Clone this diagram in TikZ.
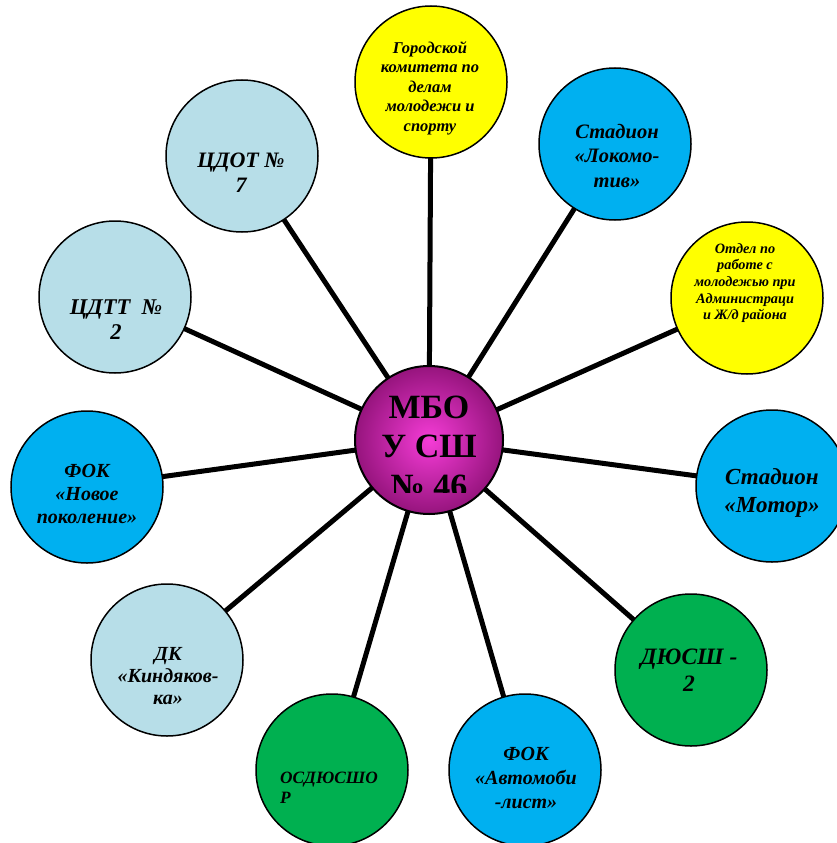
\documentclass[tikz,border=0pt]{standalone}
\usepackage{fontspec}
\setmainfont{Liberation Serif}
\usetikzlibrary{backgrounds}
\definecolor{cyel}{RGB}{255,255,0}
\definecolor{cblue}{RGB}{0,176,240}
\definecolor{clight}{RGB}{183,222,232}
\definecolor{cgreen}{RGB}{0,176,80}
\definecolor{cpinkin}{RGB}{245,60,215}
\definecolor{cpinkout}{RGB}{150,20,125}
\tikzset{
  bubble/.style={circle, draw=black, line width=1.5pt, minimum size=152pt, inner sep=0pt},
  conn/.style={line width=5pt, black},
  lbl/.style={align=center, inner sep=0pt, text=black},
}
\newcommand{\bfi}[2]{\fontsize{#1}{#2}\selectfont\bfseries\itshape}
\begin{document}
\begin{tikzpicture}[x=1pt,y=-1pt]
\clip (0,0) rectangle (837,843);
% hub
\node[circle, draw=black, line width=2pt, minimum size=148pt, inner sep=0pt,
      inner color=cpinkin, outer color=cpinkout] (hub) at (429,440) {};
% satellites
\node[bubble, fill=cyel]   (n1)  at (431,82)  {};
\node[bubble, fill=cblue]  (n2)  at (615,144) {};
\node[bubble, fill=cyel]   (n3)  at (747,298) {};
\node[bubble, fill=cblue]  (n4)  at (772,486) {};
\node[bubble, fill=cgreen] (n5)  at (691,670) {};
\node[bubble, fill=cblue]  (n6)  at (525,770) {};
\node[bubble, fill=cgreen] (n7)  at (332,770) {};
\node[bubble, fill=clight] (n8)  at (167,660) {};
\node[bubble, fill=cblue]  (n9)  at (87,487)  {};
\node[bubble, fill=clight] (n10) at (115,297) {};
\node[bubble, fill=clight] (n11) at (242,156) {};
\begin{pgfonlayer}{background}
\fill[white] (0,0) rectangle (837,843);
\foreach \n in {n1,n2,n3,n4,n5,n6,n7,n8,n9,n10,n11}
  \draw[conn] (hub.center) -- (\n.center);
\end{pgfonlayer}
% hub text
\begin{scope}
\clip (340,360) rectangle (520,492);
\node[anchor=base, inner sep=0pt, font=\fontsize{34}{40}\selectfont\bfseries] (h1) at (429,418) {МБО};
\node[anchor=base, inner sep=0pt, font=\fontsize{34}{40}\selectfont\bfseries] (h2) at (429,457) {У СШ};
\node[anchor=base, inner sep=0pt, font=\fontsize{34}{40}\selectfont\bfseries] (h3) at (429,497) {№ 46};
\end{scope}
% labels
\node[lbl, font=\bfi{16.5}{19.5}] (t1) at (430,88) {Городской\\комитета по\\делам\\молодежи и\\спорту};
\node[lbl, font=\bfi{20.5}{24.5}] (t2) at (617,156) {Стадион\\«Локомо-\\тив»};
\node[lbl, font=\bfi{14.3}{16.7}] (t3) at (745,283) {Отдел по\\работе с\\молодежью при\\Администраци\\и Ж/д района};
\node[lbl, font=\bfi{23}{28}] (t4) at (772,493) {Стадион\\«Мотор»};
\node[lbl, font=\bfi{23.5}{27}] (t5) at (689,670) {ДЮСШ -\\2};
\node[lbl, font=\bfi{20}{24}] (t6) at (526,778) {ФОК\\«Автомоби\\-лист»};
\node[lbl, align=left, anchor=west, font=\bfi{17.3}{20}] (t7) at (280,788) {ОСДЮСШО\\Р};
\node[lbl, font=\bfi{20}{22}] (t8) at (168,676) {ДК\\«Киндяков-\\ка»};
\node[lbl, font=\bfi{20}{23}] (t9) at (87,494) {ФОК\\«Новое\\поколение»};
\node[lbl, font=\bfi{22.5}{25}] (t10) at (116,320) {ЦДТТ~~№\\2};
\node[lbl, font=\bfi{22}{25}] (t11) at (241,173) {ЦДОТ №\\7};
\end{tikzpicture}
\end{document}
